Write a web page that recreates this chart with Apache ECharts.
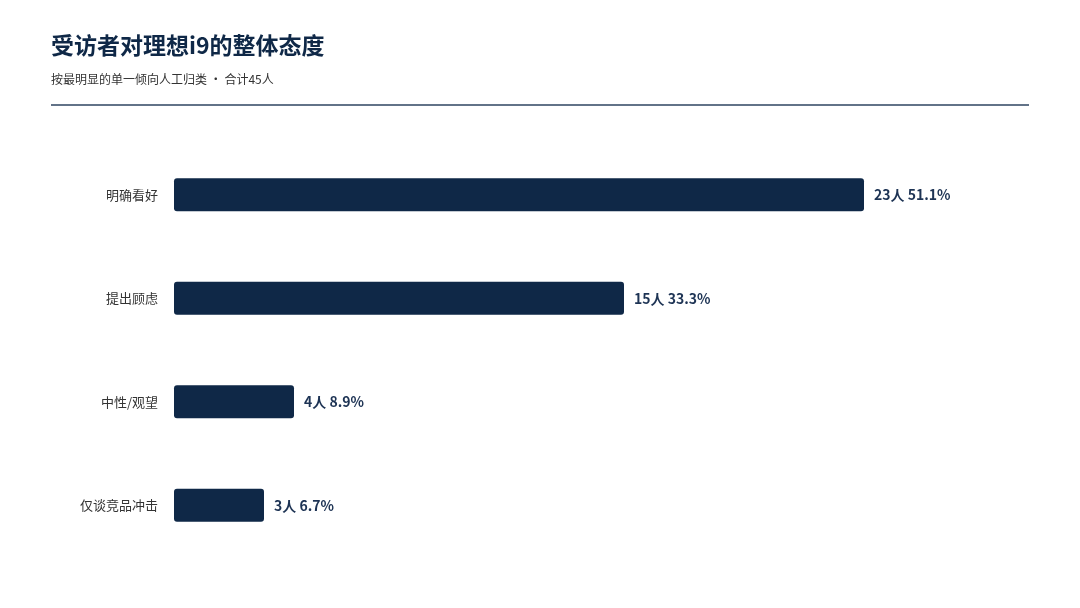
<!DOCTYPE html>
<html>
<head>
<meta charset="utf-8">
<script src="https://cdn.jsdelivr.net/npm/echarts@6/dist/echarts.min.js"></script>
<style>
  html, body { margin: 0; padding: 0; background: #fff; }
  #chart { width: 1080px; height: 608px; }
</style>
</head>
<body>
<div id="chart"></div>
<script>
// 数据
const categories = ['明确看好', '提出顾虑', '中性/观望', '仅谈竞品冲击'];
const counts = [23, 15, 4, 3];
const percents = ['51.1%', '33.3%', '8.9%', '6.7%'];

const navy = '#0f2847';
const chart = echarts.init(document.getElementById('chart'));

chart.setOption({
  backgroundColor: '#fff',
  textStyle: { fontFamily: 'Noto Sans CJK SC' },
  graphic: [
    { type: 'text', left: 51, top: 34, style: { text: '受访者对理想i9的整体态度', fill: navy, font: 'bold 23px "Noto Sans CJK SC"' } },
    { type: 'text', left: 51, top: 73, style: { text: '按最明显的单一倾向人工归类 · 合计45人', fill: '#333', font: '12px "Noto Sans CJK SC"' } },
    { type: 'line', shape: { x1: 51, y1: 105, x2: 1029, y2: 105 }, style: { stroke: '#2e4560', lineWidth: 1.5 } }
  ],
  grid: { left: 174, width: 750, top: 143, height: 414 },
  xAxis: { type: 'value', min: 0, max: 25, show: false },
  yAxis: {
    type: 'category',
    inverse: true,
    data: categories,
    axisLine: { show: false },
    axisTick: { show: false },
    axisLabel: { color: '#333', fontSize: 13, margin: 16 }
  },
  series: [{
    type: 'bar',
    data: counts,
    barWidth: 33,
    itemStyle: { color: navy, borderRadius: 3 },
    label: {
      show: true,
      position: 'right',
      distance: 10,
      color: '#1d3354',
      fontWeight: 'bold',
      fontSize: 14,
      formatter: (p) => `${counts[p.dataIndex]}人 ${percents[p.dataIndex]}`
    }
  }]
});
</script>
</body>
</html>
